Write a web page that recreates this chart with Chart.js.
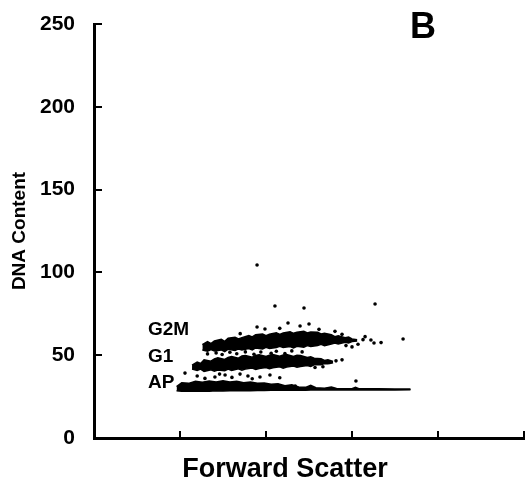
<!DOCTYPE html>
<html>
<head>
<meta charset="utf-8">
<script src="https://cdn.jsdelivr.net/npm/chart.js@4.4.1/dist/chart.umd.min.js"></script>
<style>
  body { margin: 0; background: #fff; }
  #wrap { width: 528px; height: 485px; }
</style>
</head>
<body>
<div id="wrap"><canvas id="myChart"></canvas></div>
<script>
const FONT = '"Liberation Sans", Arial, Helvetica, sans-serif';

// axis ticks (x has no labels in the figure)
const xTicks = [0, 50, 100, 150, 200, 250];
const yTicks = [0, 50, 100, 150, 200, 250];

// outlines of the dense clusters: [forward scatter, DNA content]
const g2mUpper = [[63, 56.4], [66, 58.2], [68, 57.0], [70, 58.6], [74, 59.6], [76, 58.4], [78, 60.2], [82, 60.8],
  [84, 59.8], [86, 60.6], [90, 61.8], [92, 61.0], [94, 62.4], [98, 62.8], [100, 61.8], [102, 62.6],
  [106, 63.6], [108, 62.6], [110, 63.4], [114, 64.2], [116, 63.2], [118, 63.8], [122, 64.4], [124, 63.4],
  [126, 64.0], [130, 63.8], [132, 62.8], [134, 63.2], [138, 62.4], [140, 61.2], [142, 61.8], [146, 60.6],
  [148, 61.0], [150, 59.8], [153, 59.4]];
const g2mLower = [[63, 53.2], [66, 52.4], [68, 53.4], [70, 52.6], [74, 53.2], [76, 52.2], [78, 53.6], [82, 52.8],
  [84, 53.8], [86, 53.2], [90, 54.0], [92, 53.2], [94, 54.4], [98, 53.8], [100, 54.8], [102, 54.0],
  [106, 54.6], [108, 55.4], [110, 54.6], [114, 55.2], [116, 54.4], [118, 55.4], [122, 54.8], [124, 55.8],
  [126, 55.2], [130, 55.8], [132, 56.6], [134, 55.8], [138, 56.8], [140, 57.4], [142, 56.8], [146, 57.8],
  [148, 57.4], [150, 58.2], [153, 58.6]];

const g1Upper = [[57, 44.0], [60, 45.8], [62, 45.0], [64, 47.2], [68, 46.4], [70, 47.8], [72, 48.4], [76, 47.4],
  [78, 48.6], [80, 49.2], [84, 48.2], [86, 49.6], [88, 49.8], [92, 48.8], [94, 49.8], [96, 50.2],
  [100, 49.2], [102, 50.0], [104, 50.4], [108, 49.4], [110, 50.2], [112, 50.4], [116, 49.2], [118, 50.0],
  [120, 49.8], [124, 48.6], [126, 49.0], [128, 48.2], [132, 47.8], [134, 46.8], [136, 47.2], [139, 46.2]];
const g1Lower = [[57, 41.6], [60, 40.8], [62, 41.6], [64, 40.2], [68, 41.2], [70, 40.4], [72, 41.0], [76, 40.6],
  [78, 41.6], [80, 40.8], [84, 41.8], [86, 41.0], [88, 41.6], [92, 42.2], [94, 41.4], [96, 42.0],
  [100, 42.6], [102, 41.8], [104, 42.4], [108, 43.0], [110, 42.2], [112, 42.8], [116, 43.4], [118, 42.8],
  [120, 43.2], [124, 43.8], [126, 43.2], [128, 44.2], [132, 44.2], [134, 45.0], [136, 44.8], [139, 45.4]];

const apUpper = [[48, 31.0], [51, 33.4], [55, 33.0], [59, 34.2], [63, 33.6], [67, 34.4], [71, 33.8], [75, 34.6],
  [79, 33.8], [83, 34.2], [87, 33.4], [91, 33.8], [95, 33.0], [99, 33.2], [103, 32.4], [107, 32.8],
  [111, 31.6], [115, 32.2], [119, 30.8], [123, 30.6], [126, 31.8], [129, 30.4], [134, 30.0], [138, 30.8],
  [141, 29.9], [150, 29.8], [152, 30.6], [154, 29.8], [165, 29.7], [175, 29.6], [184, 29.6]];
const apLower = [[48, 28.6], [51, 28.2], [55, 28.4], [59, 28.2], [63, 28.4], [67, 28.3], [71, 28.5], [75, 28.4],
  [79, 28.6], [83, 28.5], [87, 28.6], [91, 28.6], [95, 28.7], [99, 28.7], [103, 28.8], [107, 28.8],
  [111, 28.8], [115, 28.9], [119, 28.9], [123, 28.9], [126, 29.0], [129, 29.0], [134, 29.0], [138, 29.0],
  [141, 29.0], [150, 29.0], [152, 29.0], [154, 29.0], [165, 29.0], [175, 29.0], [184, 29.1]];

// single events outside / between the clusters
const scatterEvents = [[94.8, 104.5], [105.2, 79.7], [122.1, 78.5], [163.4, 80.9],
  [94.8, 67.0], [99.4, 65.8], [112.8, 69.4], [119.8, 67.6], [125, 68.8], [130.8, 65.6], [140.1, 64.4],
  [144.2, 62.6], [85, 63.0], [108, 66.2],
  [153.5, 56.6], [156.4, 59.4], [157.6, 61.2], [161, 59.2], [162.8, 57.4], [166.9, 57.6], [179.7, 59.8],
  [150, 55.0], [146.5, 55.8],
  [137.2, 45.6], [140.7, 46.6], [144.2, 47.2], [133.1, 43.0], [128.5, 42.6],
  [52.9, 39.2], [64.5, 36.0], [70.3, 36.8], [76.2, 38.0], [80.2, 36.6], [84.9, 38.6], [89.5, 37.4],
  [96.5, 36.8], [102.3, 38.0], [60, 37.4], [73, 38.6], [92, 35.8], [108, 36.4],
  [152.3, 34.4], [117, 31.4],
  [71, 51.4], [74.5, 50.4], [79, 51.8], [83, 50.9], [88, 52.0], [93, 50.6], [97, 51.9], [103, 51.2],
  [106, 52.4], [111, 51.0], [115, 52.6], [121, 52.0], [66, 50.8]];

// cell-cycle labels
const phaseNames = ['G2M', 'G1', 'AP'];
const phaseX = [31.4, 31.4, 31.4];
const phaseY = [65.2, 48.9, 33.2];

const xTitle = 'Forward Scatter';
const yTitle = 'DNA Content';
const panelLetter = 'B';

function toPoints(arr) {
    return arr.map(p => ({x: p[0], y: p[1]}));
}

function band(upper, lower) {
    return [{
        type: 'line',
        data: toPoints(upper),
        borderColor: '#000',
        backgroundColor: '#000',
        borderWidth: 1.5,
        pointRadius: 0,
        tension: 0,
        fill: '+1'
    }, {
        type: 'line',
        data: toPoints(lower),
        borderColor: '#000',
        borderWidth: 1.5,
        pointRadius: 0,
        tension: 0,
        fill: false
    }];
}

const figureText = {
    id: 'figureText',
    afterDraw(chart) {
        const {ctx, chartArea, scales} = chart;
        ctx.save();
        ctx.fillStyle = '#000';
        ctx.font = 'bold 19px ' + FONT;
        ctx.textAlign = 'left';
        ctx.textBaseline = 'middle';
        phaseNames.forEach((t, i) => {
            ctx.fillText(t, scales.x.getPixelForValue(phaseX[i]), scales.y.getPixelForValue(phaseY[i]));
        });
        ctx.textAlign = 'center';
        ctx.textBaseline = 'alphabetic';
        ctx.font = 'bold 27px ' + FONT;
        ctx.fillText(xTitle, chartArea.left + 191, chartArea.bottom + 39);
        ctx.font = 'bold 36px ' + FONT;
        ctx.fillText(panelLetter, chartArea.left + 329, 38);
        ctx.restore();
    }
};

const ctx = document.getElementById('myChart');
new Chart(ctx, {
    type: 'scatter',
    data: {
        datasets: [
            ...band(g2mUpper, g2mLower),
            ...band(g1Upper, g1Lower),
            ...band(apUpper, apLower),
            {
                data: toPoints(scatterEvents),
                pointRadius: 1.8,
                pointBorderWidth: 0,
                backgroundColor: '#000'
            }
        ]
    },
    options: {
        responsive: true,
        maintainAspectRatio: false,
        animation: false,
        layout: {
            padding: {top: 24, right: 4, left: 0, bottom: 0}
        },
        plugins: {
            legend: {display: false},
            tooltip: {enabled: false}
        },
        scales: {
            x: {
                type: 'linear',
                min: xTicks[0],
                max: xTicks[xTicks.length - 1],
                afterFit: s => { s.height = 47; },
                afterBuildTicks: s => { s.ticks = xTicks.map(v => ({value: v})); },
                ticks: {display: false},
                grid: {drawOnChartArea: false, tickLength: -7, color: '#000', lineWidth: 2},
                border: {color: '#000', width: 3}
            },
            y: {
                min: yTicks[0],
                max: yTicks[yTicks.length - 1],
                // inward ticks need a large label padding; keep it out of the top margin
                afterFit: s => { s.width = 94; s.paddingTop = 12; s.paddingBottom = 12; },
                afterBuildTicks: s => { s.ticks = yTicks.map(v => ({value: v})); },
                ticks: {
                    color: '#000',
                    padding: 27,
                    font: {family: FONT, size: 21, weight: 'bold'}
                },
                grid: {drawOnChartArea: false, tickLength: -8, color: '#000', lineWidth: 2},
                border: {color: '#000', width: 3},
                title: {
                    display: true,
                    text: yTitle,
                    color: '#000',
                    padding: {top: 8, bottom: 0},
                    font: {family: FONT, size: 19, weight: 'bold'}
                }
            }
        }
    },
    plugins: [figureText]
});
</script>
</body>
</html>
